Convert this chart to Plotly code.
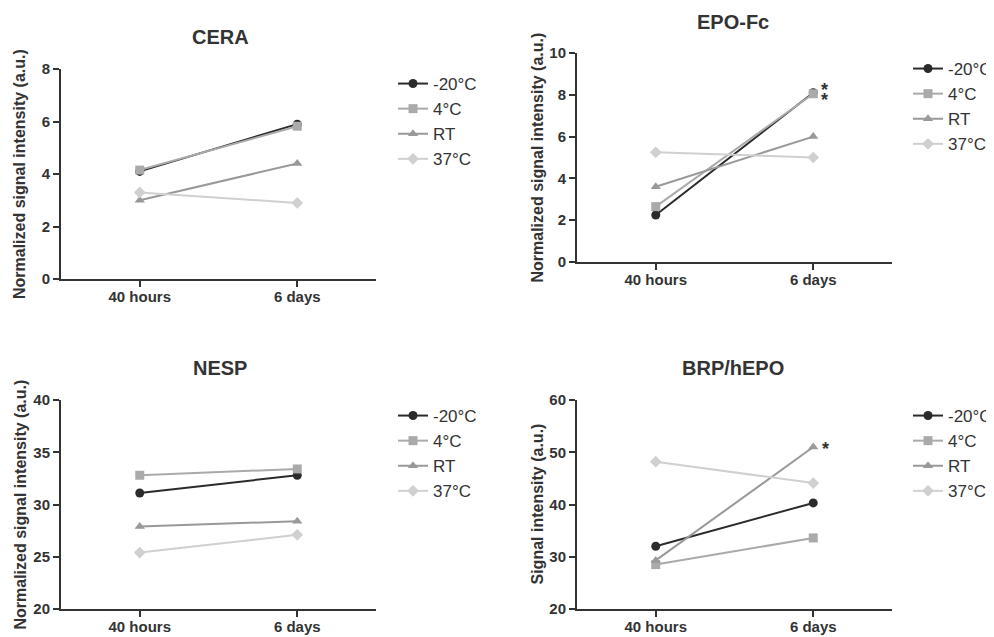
import plotly.graph_objects as go

categories = ["40 hours", "6 days"]
series_names = ["-20°C", "4°C", "RT", "37°C"]
panel_titles = ["CERA", "EPO-Fc", "NESP", "BRP/hEPO"]
y_titles = ["Normalized signal intensity (a.u.)", "Normalized signal intensity (a.u.)",
            "Normalized signal intensity (a.u.)", "Signal intensity (a.u.)"]

cera = {"-20°C": [4.1, 5.9], "4°C": [4.15, 5.82], "RT": [3.0, 4.4], "37°C": [3.3, 2.9]}
epofc = {"-20°C": [2.25, 8.1], "4°C": [2.65, 8.05], "RT": [3.6, 6.0], "37°C": [5.25, 5.0]}
nesp = {"-20°C": [31.1, 32.8], "4°C": [32.8, 33.4], "RT": [27.9, 28.4], "37°C": [25.4, 27.1]}
brp = {"-20°C": [32.0, 40.3], "4°C": [28.5, 33.6], "RT": [29.3, 51.0], "37°C": [48.2, 44.1]}
panel_data = [cera, epofc, nesp, brp]

y_ranges = [[0, 8], [0, 10], [20, 40], [20, 60]]
y_dticks = [2, 2, 5, 10]

colors = {"-20°C": "#2b2b2b", "4°C": "#aaaaaa", "RT": "#999999", "37°C": "#d0d0d0"}
symbols = {"-20°C": "circle", "4°C": "square", "RT": "triangle-up", "37°C": "diamond"}

# the page body adds an 8px margin before the figure
OFF = 8
W, H = 994, 637


def px(x):
    return (x - OFF) / W


def py(y):
    return 1 - (y - OFF) / H


# pixel boxes in window coordinates: (left, right, top, bottom)
boxes = [(61, 376, 69, 279), (577, 892, 53, 262), (61, 376, 400, 609), (577, 892, 400, 609)]
title_pos = [(220, 37), (733, 22), (220, 368), (733, 368)]
ytitle_x = [20, 537, 20, 537]
legend_pos = [(393, 66), (908, 51), (393, 398), (908, 398)]

FONT = "Liberation Sans, Arial"
fig = go.Figure()
axcol = "#333333"
for i, data in enumerate(panel_data):
    n = "" if i == 0 else str(i + 1)
    for s in series_names:
        fig.add_trace(go.Scatter(
            x=categories, y=data[s], name=s, mode="lines+markers",
            line=dict(color=colors[s], width=2),
            marker=dict(color=colors[s], symbol=symbols[s], size=9),
            xaxis="x" + n, yaxis="y" + n, legend="legend" + n,
        ))
    l, r, t, b = boxes[i]
    fig.layout["xaxis" + n] = dict(
        domain=[px(l), px(r)], anchor="y" + n, type="category", range=[-0.5, 1.5],
        showline=True, linecolor=axcol, linewidth=2, ticks="outside", ticklen=6,
        tickwidth=1.5, tickcolor=axcol, showgrid=False, zeroline=False,
        tickfont=dict(family=FONT, size=15, color=axcol, weight="bold"),
        ticklabelstandoff=-3, automargin=False,
    )
    fig.layout["yaxis" + n] = dict(
        domain=[py(b), py(t)], anchor="x" + n, range=y_ranges[i], dtick=y_dticks[i],
        showline=True, linecolor=axcol, linewidth=2, ticks="outside", ticklen=6,
        tickwidth=1.5, tickcolor=axcol, showgrid=False, zeroline=False,
        tickfont=dict(family=FONT, size=15, color=axcol, weight="bold"),
        automargin=False,
    )
    lx, ly = legend_pos[i]
    fig.layout["legend" + n] = dict(
        x=px(lx), y=py(ly), xanchor="left", yanchor="top", xref="paper", yref="paper",
        font=dict(family=FONT, size=17, color=axcol),
        bgcolor="rgba(0,0,0,0)", tracegroupgap=0, itemwidth=30,
    )
    tx, ty = title_pos[i]
    fig.add_annotation(text="<b>%s</b>" % panel_titles[i], x=px(tx), y=py(ty),
                       xref="paper", yref="paper", showarrow=False,
                       xanchor="center", yanchor="middle",
                       font=dict(family=FONT, size=20, color=axcol))
    fig.add_annotation(text="<b>%s</b>" % y_titles[i], x=px(ytitle_x[i]),
                       y=py((t + b) / 2), xref="paper", yref="paper", showarrow=False,
                       xanchor="center", yanchor="middle", textangle=-90,
                       font=dict(family=FONT, size=16, color=axcol))

# significance asterisks
star_font = dict(family=FONT, size=18, color="#333333")
fig.add_annotation(text="<b>*</b>", x="6 days", y=epofc["-20°C"][1], xref="x2", yref="y2",
                   showarrow=False, xshift=11, yshift=3, font=star_font)
fig.add_annotation(text="<b>*</b>", x="6 days", y=epofc["4°C"][1], xref="x2", yref="y2",
                   showarrow=False, xshift=11, yshift=-6, font=star_font)
fig.add_annotation(text="<b>*</b>", x="6 days", y=brp["RT"][1], xref="x4", yref="y4",
                   showarrow=False, xshift=12, yshift=-2, font=star_font)

fig.update_layout(
    width=W, height=H, margin=dict(l=0, r=0, t=0, b=0),
    paper_bgcolor="white", plot_bgcolor="white", showlegend=True,
)
fig.write_html("out.html")
